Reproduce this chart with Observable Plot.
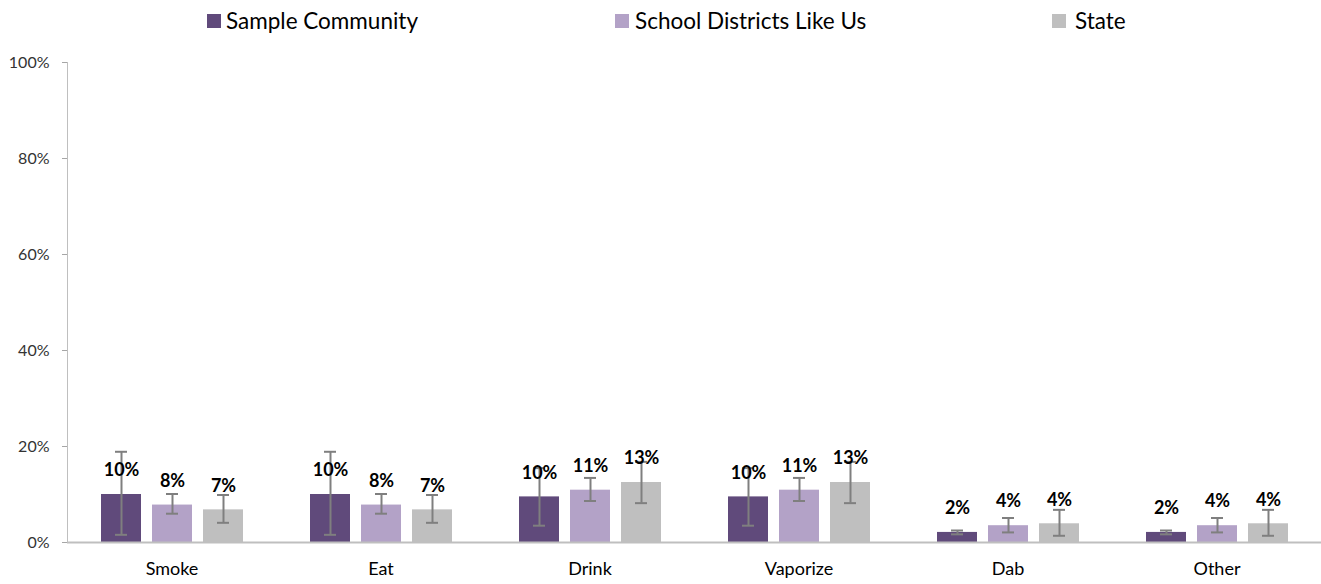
<!DOCTYPE html>
<html>
<head>
<meta charset="utf-8">
<script src="https://cdn.jsdelivr.net/npm/d3@7"></script>
<script src="https://cdn.jsdelivr.net/npm/@observablehq/plot@0.6"></script>
<style>
  html, body { margin: 0; padding: 0; background: #fff; overflow: hidden; }
  body { font-family: Lato, "Open Sans", sans-serif; }
  #legend { position: relative; width: 1321px; height: 42px; }
  .sw { position: absolute; top: 14px; width: 14px; height: 14px; }
  .lbl { position: absolute; top: 7px; font-size: 22.5px; line-height: 27px; color: #000; white-space: nowrap; }
</style>
</head>
<body>
<div id="legend"></div>
<div id="chart"></div>
<script>
// ---- data ----
const categories = ["Smoke", "Eat", "Drink", "Vaporize", "Dab", "Other"];
const series = ["Sample Community", "School Districts Like Us", "State"];
const colors = ["#604a7b", "#b3a2c7", "#bfbfbf"];

const sampleCommunity = [10.0, 10.0, 9.5, 9.5, 2.1, 2.1];
const schoolDistricts = [7.8, 7.8, 10.9, 10.9, 3.5, 3.5];
const stateValues     = [6.8, 6.8, 12.5, 12.5, 3.9, 3.9];

const sampleCommunityLow  = [1.6, 1.6, 3.5, 3.5, 1.7, 1.7];
const sampleCommunityHigh = [18.9, 18.9, 15.5, 15.5, 2.5, 2.5];
const schoolDistrictsLow  = [6.0, 6.0, 8.65, 8.65, 2.1, 2.1];
const schoolDistrictsHigh = [10.1, 10.1, 13.45, 13.45, 5.1, 5.1];
const stateLow  = [4.1, 4.1, 8.2, 8.2, 1.4, 1.4];
const stateHigh = [9.9, 9.9, 16.8, 16.8, 6.8, 6.8];

const yTicks = [0, 20, 40, 60, 80, 100];

// ---- table ----
const vals = [sampleCommunity, schoolDistricts, stateValues];
const lows = [sampleCommunityLow, schoolDistrictsLow, stateLow];
const highs = [sampleCommunityHigh, schoolDistrictsHigh, stateHigh];
const rows = categories.flatMap((c, i) => series.map((s, j) => ({
  category: c, series: s, value: vals[j][i], lo: lows[j][i], hi: highs[j][i]
})));

// ---- legend ----
const legendPos = [{sw: 207, tx: 226}, {sw: 615, tx: 635}, {sw: 1052, tx: 1075}];
const legend = document.getElementById("legend");
series.forEach((s, i) => {
  const sw = document.createElement("div");
  sw.className = "sw"; sw.style.left = legendPos[i].sw + "px"; sw.style.background = colors[i];
  const t = document.createElement("div");
  t.className = "lbl"; t.style.left = legendPos[i].tx + "px"; t.textContent = s;
  legend.appendChild(sw); legend.appendChild(t);
});

// ---- chart ----
const chart = Plot.plot({
  width: 1321,
  height: 542,
  marginLeft: 67,
  marginRight: 0,
  marginTop: 20,
  marginBottom: 42,
  style: { fontFamily: "Lato, 'Open Sans', sans-serif", background: "#fff" },
  fx: { domain: categories, paddingInner: 0, paddingOuter: 0, label: null },
  x: { domain: series, paddingInner: 0.216, paddingOuter: 0.657, axis: null },
  y: { domain: [0, 100], label: null },
  color: { domain: series, range: colors },
  marks: [
    Plot.frame({ anchor: "left", facetAnchor: "left", stroke: "#bfbfbf" }),
    Plot.axisY({ ticks: yTicks, tickFormat: d => d + "%", tickSize: 5, tickPadding: 13,
      fontSize: 16, stroke: "#a6a6a6", color: "#333", label: null }),
    Plot.axisFx({ anchor: "bottom", tickSize: 0, tickPadding: 20, fontSize: 18, color: "#000", label: null }),
    Plot.barY(rows, { fx: "category", x: "series", y: "value", fill: "series" }),
    Plot.ruleY([0], { stroke: "#bfbfbf", strokeWidth: 2 }),
    Plot.ruleX(rows, { fx: "category", x: "series", y1: "lo", y2: "hi", stroke: "#7f7f7f", strokeWidth: 2 }),
    Plot.tickY(rows, { fx: "category", x: "series", y: "lo", stroke: "#7f7f7f", strokeWidth: 2, insetLeft: 14, insetRight: 14 }),
    Plot.tickY(rows, { fx: "category", x: "series", y: "hi", stroke: "#7f7f7f", strokeWidth: 2, insetLeft: 14, insetRight: 14 }),
    Plot.text(rows, { fx: "category", x: "series", y: "value", text: d => Math.round(d.value) + "%",
      dy: -24, fontSize: 18, fontWeight: "bold", fill: "#000" })
  ]
});
document.getElementById("chart").appendChild(chart);
</script>
</body>
</html>
